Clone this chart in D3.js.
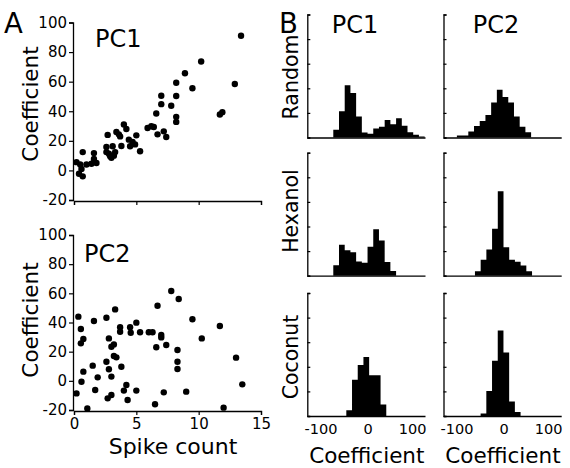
<!DOCTYPE html>
<html>
<head>
<meta charset="utf-8">
<script src="https://cdn.jsdelivr.net/npm/d3@7"></script>
<style>
  html, body { margin: 0; padding: 0; background: #fff; }
  svg { display: block; font-family: "DejaVu Sans", sans-serif; }
</style>
</head>
<body>
<svg id="chart" width="570" height="468"></svg>
<script>
// ---------- DATA ----------
// Panel A, PC1: spike count vs coefficient
const pc1Spike = [0.2,0.5,0.7,0.4,0.7,0.6,1.0,1.4,1.6,1.6,1.8,2.7,2.6,2.6,2.8,2.9,3.0,3.2,3.3,3.1,3.4,3.6,3.8,3.7,4.0,4.2,4.4,4.5,4.9,5.0,5.3,4.7,5.9,6.2,6.4,6.6,6.7,7.0,7.0,7.2,7.4,7.8,8.2,8.2,8.2,8.2,8.9,9.5,10.2,11.7,11.9,12.9,13.4];
const pc1Coef  = [5.6,4,12.4,-2.3,-4,1,4,4.5,11.7,7.8,5,24,15.8,12.4,11.3,9.5,8.6,10,12.4,16.3,26,24.4,16.5,23,31,28,20.8,16.3,17.6,23.7,13,19.2,28.7,29.9,29.4,38.5,24.4,50.5,44.8,26.4,22.6,43.7,50.3,59.3,36.2,32.8,65.7,55.5,73.6,37.8,39.4,58.4,91];
// Panel A, PC2
const pc2Spike = [0.35,0.2,0.55,0.55,0.75,0.75,0.6,1.07,1.6,1.5,1.7,1.9,2.6,2.8,2.6,2.8,2.7,3.0,3.0,3.0,3.2,3.3,3.2,3.4,3.8,3.7,3.7,4.0,4.2,4.3,4.5,4.55,5.0,5.0,5.3,6.0,6.3,6.5,6.6,6.7,7.0,7.0,7.2,7.4,7.8,8.4,8.3,8.3,8.3,9.0,9.5,10.25,11.7,12.0,13.0,13.5];
const pc2Coef  = [44,-8.6,35.5,25.7,28.7,6.3,-0.6,-18.9,41,10.4,-6.3,2.4,43.3,29.1,13.1,7.9,-12,-9.7,2.9,23.4,25,49,17,16.1,9.7,36.7,33.7,-6.7,-2.9,-13.1,36.7,33,39.9,-6.7,33.3,33.3,33.3,-16.1,23,51.5,31.4,29.8,-7.9,24.6,61.6,56.1,21.1,13.1,8.1,-7.4,42.2,29.1,37.6,-18.4,15.9,-2.4];
const scatterYTicks = [-20,0,20,40,60,80,100];
const scatterXTicks = [0,5,10,15];

// Panel B, histograms (bin heights, common bin width)
const histRows = ["Random","Hexanol","Coconut"];
const histCols = ["PC1","PC2"];
const binWidth = 12.8;
const randomPC1  = [3.1,10.7,21.2,18.1,8.5,2.0,1.5,3.7,4.4,7.1,5.4,7.8,4.8,2.1,1.1,0.4];
const randomPC2  = [0.8,0.8,2.4,4.7,6.7,9.1,14.2,19.4,16.5,14.2,8.5,4.4,2.1];
const hexanolPC1 = [4.2,12.6,10.3,9.5,5.8,5.3,11.8,18.9,14.3,5.6,1.9];
const hexanolPC2 = [1.8,6.5,10.6,19.1,34.3,11.6,6.5,5.7,4.1,1.8];
const coconutPC1 = [2.3,14.7,20.7,24.0,16.6,16.6,4.7];
const coconutPC2 = [1.0,10.2,22.5,34.8,25.8,5.9,1.6];
const randomStarts  = [-76.7,-104.5];
const hexanolStarts = [-76.7,-64];
const coconutStarts = [-47.5,-51.3];
const histXTicks = [-100,0,100];
const histYTicks = [0,10,20,30,40,50];

// ---------- DRAW ----------
const svg = d3.select("#chart");
const fmt = d => (d < 0 ? "-" + Math.abs(d) : String(d));
const FONT = "DejaVu Sans, sans-serif";

function styleAxis(g) {
  g.selectAll("path").attr("stroke", "#000").attr("stroke-width", 1.3);
  g.selectAll("line").attr("stroke", "#000").attr("stroke-width", 1.2);
  g.selectAll("text").attr("fill", "#000").attr("font-family", FONT);
}

// Scatter panels
const sx = d3.scaleLinear().domain([0, 15]).range([74, 261]);
const scatters = [
  { xs: pc1Spike, ys: pc1Coef, y0: 200, y1: 22.5, title: "PC1", tx: 95, ty: 46.7, labels: false, ylabCy: 104 },
  { xs: pc2Spike, ys: pc2Coef, y0: 410, y1: 235, title: "PC2", tx: 84, ty: 261.5, labels: true, ylabCy: 320 }
];
scatters.forEach(p => {
  const sy = d3.scaleLinear().domain([-20, 100]).range([p.y0, p.y1]);
  const gy = svg.append("g").attr("transform", `translate(${sx(0) - 1},0)`)
    .call(d3.axisLeft(sy).tickValues(scatterYTicks).tickSize(4).tickPadding(2).tickFormat(fmt));
  gy.selectAll("text").attr("font-size", 15);
  styleAxis(gy);
  const gx = svg.append("g").attr("transform", `translate(0,${p.y0 + 1})`)
    .call(d3.axisBottom(sx).tickValues(scatterXTicks).tickSize(4).tickPadding(3)
      .tickFormat(p.labels ? fmt : () => ""));
  gx.selectAll("text").attr("font-size", 15);
  styleAxis(gx);
  svg.append("g").selectAll("circle")
    .data(d3.range(p.xs.length))
    .join("circle")
    .attr("cx", i => sx(p.xs[i]))
    .attr("cy", i => sy(p.ys[i]))
    .attr("r", 3.2)
    .attr("fill", "#000");
  svg.append("text").attr("x", p.tx).attr("y", p.ty)
    .attr("font-size", 24).attr("font-family", FONT).text(p.title);
  svg.append("text")
    .attr("transform", `translate(38,${p.ylabCy}) rotate(-90)`)
    .attr("text-anchor", "middle").attr("font-size", 21.5).attr("font-family", FONT)
    .text("Coefficient");
});
svg.append("text").attr("x", 173).attr("y", 453.5).attr("text-anchor", "middle")
  .attr("font-size", 22).attr("font-family", FONT).text("Spike count");

// Panel letters
svg.append("text").attr("x", 4).attr("y", 33).attr("font-size", 27.5).attr("font-family", FONT).text("A");
svg.append("text").attr("x", 279).attr("y", 33).attr("font-size", 27.5).attr("font-family", FONT).text("B");

// Histogram panels
const histData = [[randomPC1, randomPC2], [hexanolPC1, hexanolPC2], [coconutPC1, coconutPC2]];
const histStart = [randomStarts, hexanolStarts, coconutStarts];
const rowBase = [137.5, 275.7, 416];
const rowLabelCy = [77, 211, 357];
const colAxisX = [307.3, 443.5];
const colZero = [367.5, 503.5];
const pxPer = 0.446;

histRows.forEach((rname, r) => {
  const hy = d3.scaleLinear().domain([0, 50]).range([rowBase[r], rowBase[r] - 123]);
  histCols.forEach((cname, c) => {
    const hx = d3.scaleLinear().domain([-100, 100])
      .range([colZero[c] - 100 * pxPer, colZero[c] + 100 * pxPer]);
    const counts = histData[r][c];
    const start = histStart[r][c];
    // bins as a step outline (no seams between adjacent bars)
    const pts = counts.map((v, i) => [start + i * binWidth, v]);
    pts.push([start + counts.length * binWidth, counts[counts.length - 1]]);
    const area = d3.area()
      .x(d => hx(d[0]))
      .y0(hy(0))
      .y1(d => hy(d[1]))
      .curve(d3.curveStepAfter);
    svg.append("path").datum(pts).attr("d", area).attr("fill", "#000");
    // y axis with inward ticks
    const gy = svg.append("g").attr("transform", `translate(${colAxisX[c]},0)`)
      .call(d3.axisLeft(hy).tickValues(histYTicks).tickSize(-3).tickFormat(() => ""));
    styleAxis(gy);
    // x axis line
    const xEnd = colAxisX[c] + 117.7;
    const xDomain = [hx.invert(colAxisX[c]), hx.invert(xEnd)];
    const hx2 = d3.scaleLinear().domain(xDomain).range([colAxisX[c], xEnd]);
    const gx = svg.append("g").attr("transform", `translate(0,${rowBase[r]})`)
      .call(d3.axisBottom(hx2).tickValues(r === 2 ? histXTicks : []).tickSize(0).tickPadding(8)
        .tickFormat(fmt));
    gx.selectAll("text").attr("font-size", 14.5)
      .attr("dx", d => (d < 0 ? "-0.17em" : 0));
    styleAxis(gx);
    if (r === 0) {
      svg.append("text").attr("x", c === 0 ? 355 : 496).attr("y", 33.3)
        .attr("text-anchor", "middle").attr("font-size", 24).attr("font-family", FONT).text(cname);
    }
    if (r === 2) {
      svg.append("text").attr("x", colAxisX[c] + 59.5).attr("y", 462.5)
        .attr("text-anchor", "middle").attr("font-size", 21.5).attr("font-family", FONT).text("Coefficient");
    }
  });
  svg.append("text")
    .attr("transform", `translate(297.5,${rowLabelCy[r]}) rotate(-90)`)
    .attr("text-anchor", "middle").attr("font-size", 20.5).attr("font-family", FONT)
    .text(rname);
});
</script>
</body>
</html>
